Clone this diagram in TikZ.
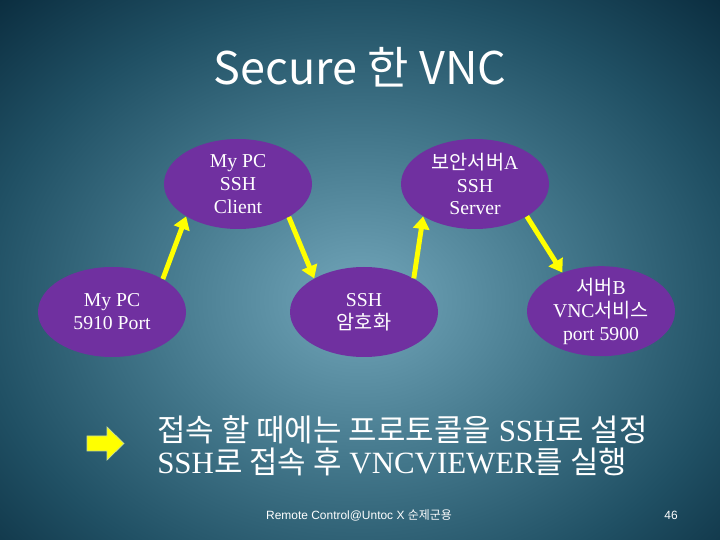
\documentclass[tikz,border=0pt]{standalone}
\usepackage{fontspec}
\setmainfont{Liberation Serif}
\setsansfont{Liberation Sans}
\newfontfamily\kr{Noto Sans CJK KR}
\usepackage{tikz}
\usetikzlibrary{arrows.meta,shapes.geometric}
\definecolor{bgin}{RGB}{104,156,176}
\definecolor{bgmid}{RGB}{66,118,138}
\definecolor{bgrim}{RGB}{32,80,100}
\definecolor{bgout}{RGB}{10,44,62}
\definecolor{bubblefill}{RGB}{112,48,160}
\definecolor{pil}{RGB}{255,255,0}
\definecolor{pilrim}{RGB}{200,220,150}
\pgfdeclareradialshading{slidebg}{\pgfpoint{0bp}{0bp}}{color(0bp)=(bgin); color(3bp)=(bgin); color(14bp)=(bgmid); color(25bp)=(bgrim); color(35bp)=(bgout); color(50bp)=(bgout)}
\tikzset{
  bubble/.style={ellipse, fill=bubblefill, text=white, minimum width=3.7cm,
                 minimum height=2.25cm, inner sep=-3pt, align=center,
                 font=\fontsize{14}{16.3}\selectfont},
  link/.style={draw=pil, line width=3.5pt, -{Triangle[width=11.5pt,length=9pt]}},
  plain/.style={text=white, inner sep=0pt}
}

\begin{document}
\begin{tikzpicture}
\useasboundingbox (0,0) rectangle (18,13.5);
\clip (0,0) rectangle (18,13.5);
% background
\shade[shading=slidebg] (-0.5,-1.5) rectangle (18.5,13.5);

\node[plain, font=\kr\fontsize{32}{36}\selectfont] (title) at (9,11.825) {Secure 한 VNC};

\node[bubble] (client) at (5.95,8.9) {My PC\\SSH\\Client};
\node[bubble] (srva) at (11.875,8.9) {{\kr 보안서버}A\\SSH\\Server};
\node[bubble] (port) at (2.8,5.7) {My PC\\5910 Port};
\node[bubble] (crypt) at (9.1,5.7) {SSH\\{\kr 암호화}};
\node[bubble] (srvb) at (15.025,5.72) {{\kr 서버}B\\VNC{\kr 서비스}\\port 5900};

\draw[link] (port.33) -- (client.212);
\draw[link] (client.-33) -- (crypt.146);
\draw[link] (crypt.34) -- (srva.212);
\draw[link] (srva.-32) -- (srvb.135);

% block arrow
\filldraw[fill=pil, draw=pilrim, line width=0.5pt] (2.175,2.6) -- (2.675,2.6) -- (2.675,2.825)
  -- (3.1,2.4125) -- (2.675,2.0) -- (2.675,2.225) -- (2.175,2.225) -- cycle;

\node[plain, anchor=west, align=left, font=\fontsize{22}{23}\selectfont] (note) at (3.925,2.35)
  {{\kr 접속 할 때에는 프로토콜을} SSH{\kr 로 설정}\\SSH{\kr 로 접속 후} VNCVIEWER{\kr 를 실행}};

\node[plain, font=\sffamily\fontsize{8.5}{10}\selectfont] (foot) at (8.975,0.625)
  {Remote Control@Untoc X {\kr 순제군용}};
\node[plain, font=\sffamily\fontsize{8.5}{10}\selectfont] (page) at (16.775,0.625) {46};
\end{tikzpicture}
\end{document}
